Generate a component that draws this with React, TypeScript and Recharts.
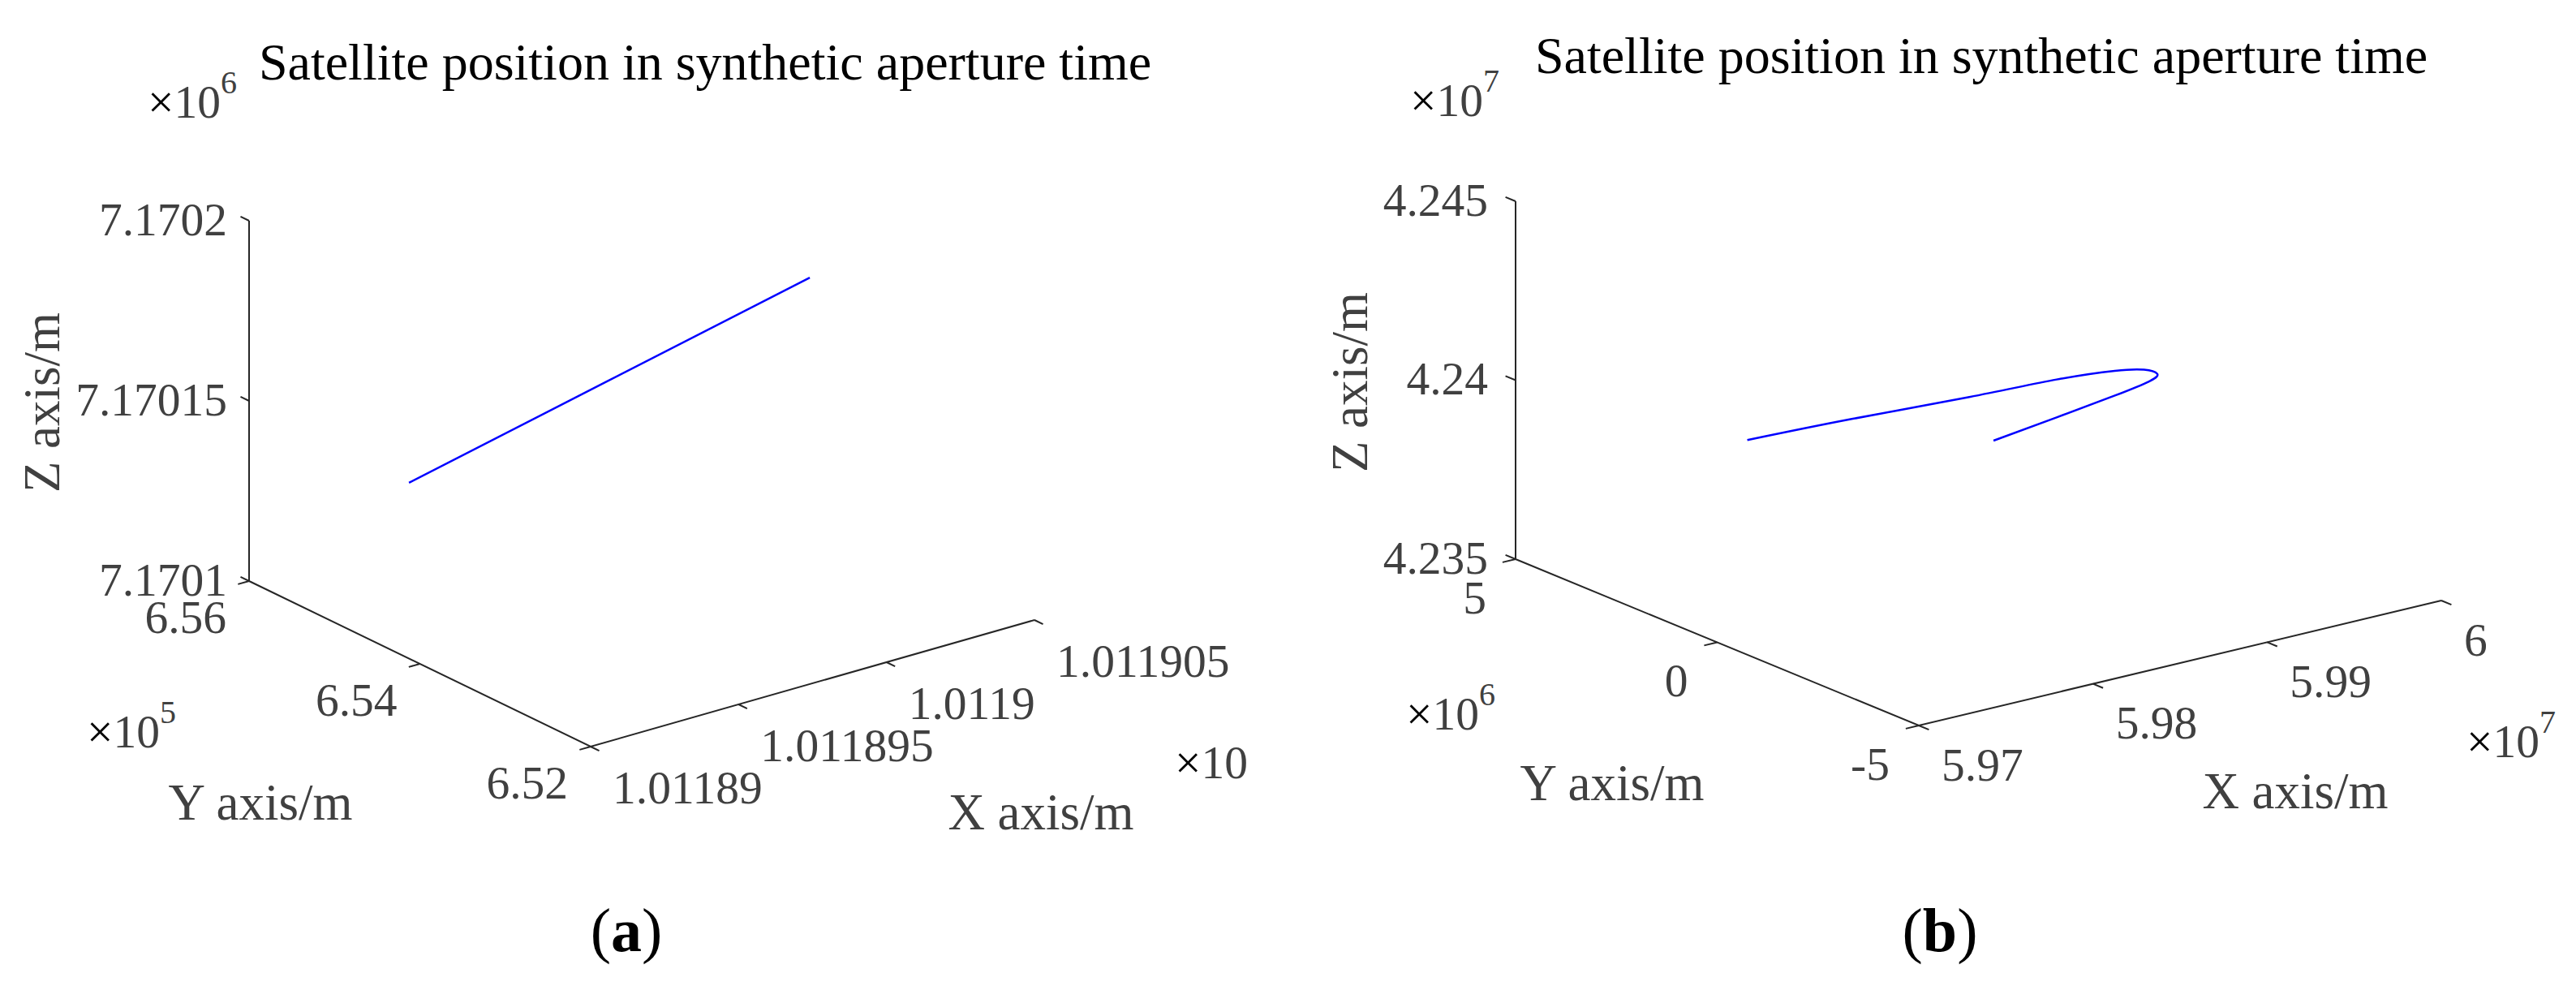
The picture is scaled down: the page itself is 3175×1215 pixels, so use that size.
import React from 'react';
import { ComposedChart, Line, Scatter, XAxis, YAxis } from 'recharts';

// ---- panel (a) data ----
const A_X_LIM = [1011890, 1011905];
const A_Y_LIM = [652000, 656000];
const A_Z_LIM = [7170100, 7170200];
const A_X_TICKS = [1011890, 1011895, 1011900, 1011905];
const A_X_LABELS = ['1.01189', '1.011895', '1.0119', '1.011905'];
const A_Y_TICKS = [652000, 654000, 656000];
const A_Y_LABELS = ['6.52', '6.54', '6.56'];
const A_Z_TICKS = [7170100, 7170150, 7170200];
const A_Z_LABELS = ['7.1701', '7.17015', '7.1702'];
const A_SAT_X = [1011894.25, 1011897.55, 1011900.87];
const A_SAT_Y = [655600, 654400, 653200];
const A_SAT_Z = [7170121.9, 7170156.4, 7170190.9];

// ---- panel (b) data ----
const B_X_LIM = [59700000, 60000000];
const B_Y_LIM = [-5000000, 5000000];
const B_Z_LIM = [42350000, 42450000];
const B_X_TICKS = [59700000, 59800000, 59900000, 60000000];
const B_X_LABELS = ['5.97', '5.98', '5.99', '6'];
const B_Y_TICKS = [-5000000, 0, 5000000];
const B_Y_LABELS = ['-5', '0', '5'];
const B_Z_TICKS = [42350000, 42400000, 42450000];
const B_Z_LABELS = ['4.235', '4.24', '4.245'];
const B_SAT_X = [59809890, 59847300, 59886420, 59913390, 59928300, 59933490, 59929440, 59915970, 59877390, 59820780, 59761410];
const B_SAT_Y = [4000000, 3000000, 1800000, 800000, 0, -500000, -1000000, -1400000, -2200000, -3200000, -4200000];
const B_SAT_Z = [42375120, 42381360, 42388480, 42394880, 42399300, 42401320, 42403000, 42404380, 42408530, 42413650, 42418730];

const H = 1215;
const FONT = '"Liberation Serif", "Times New Roman", serif';
const GRAY = '#404040';
const AXIS = '#262626';

// view of the 3d box in pixels (origin = xmin, ymin, zmin corner)
interface View {
  origin: number[];
  ex: number[];
  ey: number[];
  ez: number[];
  xlim: number[];
  ylim: number[];
  zlim: number[];
}

const project = (vw: View, x: number, y: number, z: number) => {
  const xn = (x - vw.xlim[0]) / (vw.xlim[1] - vw.xlim[0]);
  const yn = (y - vw.ylim[0]) / (vw.ylim[1] - vw.ylim[0]);
  const zn = (z - vw.zlim[0]) / (vw.zlim[1] - vw.zlim[0]);
  return {
    u: vw.origin[0] + xn * vw.ex[0] + yn * vw.ey[0] + zn * vw.ez[0],
    v: vw.origin[1] + xn * vw.ex[1] + yn * vw.ey[1] + zn * vw.ez[1],
  };
};

interface PanelProps {
  left: number;
  width: number;
  view: View;
  xTicks: number[];
  xLabels: string[];
  yTicks: number[];
  yLabels: string[];
  zTicks: number[];
  zLabels: string[];
  satX: number[];
  satY: number[];
  satZ: number[];
  curve: 'linear' | 'natural';
  off: { z: number[]; y: number[]; x: number[] };
  title: { x: number; y: number };
  zLabel: { x: number; y: number };
  yLabel: { x: number; y: number };
  xLabel: { x: number; y: number };
  zExp: { x: number; y: number; p: string };
  yExp: { x: number; y: number; p: string };
  xExp: { x: number; y: number; p: string };
  tag: { x: number; y: number; t: string };
}

const Exp = ({ x, y, p }: { x: number; y: number; p: string }) => (
  <text x={x} y={y} fontFamily={FONT} fontSize={57.5} fill={GRAY}>
    <tspan fill="#000">×</tspan>
    <tspan>10</tspan>
    <tspan dy={-30} fontSize={40}>{p}</tspan>
  </text>
);

const Panel = (pp: PanelProps) => {
  const vw = pp.view;
  const [x0, x1] = vw.xlim;
  const [y0, y1] = vw.ylim;
  const [z0, z1] = vw.zlim;
  const TK = 0.025;

  const box = [
    project(vw, x0, y1, z1),
    project(vw, x0, y1, z0),
    project(vw, x0, y0, z0),
    project(vw, x1, y0, z0),
  ];

  const ticks: { u: number; v: number | null }[] = [];
  const seg = (a: { u: number; v: number }, b: { u: number; v: number }) => {
    ticks.push(a, b, { u: b.u, v: null });
  };
  pp.zTicks.forEach((t) => seg(project(vw, x0, y1, t), project(vw, x0, y1 + TK * (y1 - y0), t)));
  pp.yTicks.forEach((t) => seg(project(vw, x0, t, z0), project(vw, x0 - TK * (x1 - x0), t, z0)));
  pp.xTicks.forEach((t) => seg(project(vw, t, y0, z0), project(vw, t, y0 - TK * (y1 - y0), z0)));

  const zLab = pp.zTicks.map((t, i) => ({ ...project(vw, x0, y1, t), label: pp.zLabels[i] }));
  const yLab = pp.yTicks.map((t, i) => ({ ...project(vw, x0, t, z0), label: pp.yLabels[i] }));
  const xLab = pp.xTicks.map((t, i) => ({ ...project(vw, t, y0, z0), label: pp.xLabels[i] }));

  const sat = pp.satX.map((x, i) => project(vw, x, pp.satY[i], pp.satZ[i]));

  const labelShape = (dx: number, dy: number, anchor: string) => (p: any) => (
    <text
      x={p.cx + dx}
      y={p.cy + dy}
      textAnchor={anchor}
      dominantBaseline="central"
      fontFamily={FONT}
      fontSize={57.5}
      fill={GRAY}
    >
      {p.payload.label}
    </text>
  );

  return (
    <div style={{ position: 'absolute', left: pp.left, top: 0, width: pp.width, height: H, overflow: 'hidden' }}>
      <ComposedChart width={pp.width} height={H} margin={{ top: 0, right: 0, bottom: 0, left: 0 }}>
        <XAxis type="number" dataKey="u" domain={[0, pp.width]} hide allowDataOverflow />
        <YAxis type="number" dataKey="v" domain={[0, H]} reversed hide allowDataOverflow />
        <Line data={box} dataKey="v" stroke={AXIS} strokeWidth={2} dot={false} activeDot={false} isAnimationActive={false} type="linear" />
        <Line data={ticks} dataKey="v" stroke={AXIS} strokeWidth={2} dot={false} activeDot={false} isAnimationActive={false} type="linear" />
        <Line data={sat} dataKey="v" stroke="#0000ff" strokeWidth={2.5} dot={false} activeDot={false} isAnimationActive={false} type={pp.curve} />
        <Scatter data={zLab} dataKey="v" isAnimationActive={false} shape={labelShape(pp.off.z[0], pp.off.z[1], 'end')} />
        <Scatter data={yLab} dataKey="v" isAnimationActive={false} shape={labelShape(pp.off.y[0], pp.off.y[1], 'end')} />
        <Scatter data={xLab} dataKey="v" isAnimationActive={false} shape={labelShape(pp.off.x[0], pp.off.x[1], 'start')} />
        <text x={pp.title.x} y={pp.title.y} textAnchor="middle" fontFamily={FONT} fontSize={64} fill="#000">
          Satellite position in synthetic aperture time
        </text>
        <text
          x={pp.zLabel.x}
          y={pp.zLabel.y}
          textAnchor="middle"
          dominantBaseline="central"
          transform={`rotate(-90, ${pp.zLabel.x}, ${pp.zLabel.y})`}
          fontFamily={FONT}
          fontSize={63}
          fill={GRAY}
        >
          Z axis/m
        </text>
        <text x={pp.yLabel.x} y={pp.yLabel.y} textAnchor="middle" fontFamily={FONT} fontSize={63} fill={GRAY}>
          Y axis/m
        </text>
        <text x={pp.xLabel.x} y={pp.xLabel.y} textAnchor="middle" fontFamily={FONT} fontSize={63} fill={GRAY}>
          X axis/m
        </text>
        <Exp {...pp.zExp} />
        <Exp {...pp.yExp} />
        <Exp {...pp.xExp} />
        <text x={pp.tag.x} y={pp.tag.y} textAnchor="middle" fontFamily={FONT} fontSize={76} fill="#000">
          (<tspan fontWeight="bold">{pp.tag.t}</tspan>)
        </text>
      </ComposedChart>
    </div>
  );
};

const VIEW_A: View = {
  origin: [728, 920],
  ex: [547, -156],
  ey: [-421, -204],
  ez: [0, -444],
  xlim: A_X_LIM,
  ylim: A_Y_LIM,
  zlim: A_Z_LIM,
};

const VIEW_B: View = {
  origin: [785, 894],
  ex: [644, -154],
  ey: [-497, -205],
  ez: [0, -441],
  xlim: B_X_LIM,
  ylim: B_Y_LIM,
  zlim: B_Z_LIM,
};

export default function App() {
  return (
    <div style={{ position: 'absolute', left: 0, top: 0, width: 3175, height: H, background: '#fff', overflow: 'hidden' }}>
      <Panel
        left={0}
        width={1538}
        view={VIEW_A}
        xTicks={A_X_TICKS}
        xLabels={A_X_LABELS}
        yTicks={A_Y_TICKS}
        yLabels={A_Y_LABELS}
        zTicks={A_Z_TICKS}
        zLabels={A_Z_LABELS}
        satX={A_SAT_X}
        satY={A_SAT_Y}
        satZ={A_SAT_Z}
        curve="linear"
        off={{ z: [-27, -2], y: [-28, 44], x: [27, 50] }}
        title={{ x: 869, y: 98 }}
        zLabel={{ x: 52, y: 496 }}
        yLabel={{ x: 321, y: 1010 }}
        xLabel={{ x: 1283, y: 1022 }}
        zExp={{ x: 182, y: 145, p: '6' }}
        yExp={{ x: 107, y: 921, p: '5' }}
        xExp={{ x: 1448, y: 959, p: '6' }}
        tag={{ x: 772, y: 1172, t: 'a' }}
      />
      <Panel
        left={1580}
        width={1595}
        view={VIEW_B}
        xTicks={B_X_TICKS}
        xLabels={B_X_LABELS}
        yTicks={B_Y_TICKS}
        yLabels={B_Y_LABELS}
        zTicks={B_Z_TICKS}
        zLabels={B_Z_LABELS}
        satX={B_SAT_X}
        satY={B_SAT_Y}
        satZ={B_SAT_Z}
        curve="natural"
        off={{ z: [-34, -2], y: [-36, 47], x: [28, 48] }}
        title={{ x: 862, y: 90 }}
        zLabel={{ x: 84, y: 471 }}
        yLabel={{ x: 407, y: 986 }}
        xLabel={{ x: 1249, y: 996 }}
        zExp={{ x: 158, y: 143, p: '7' }}
        yExp={{ x: 153, y: 899, p: '6' }}
        xExp={{ x: 1460, y: 933, p: '7' }}
        tag={{ x: 811, y: 1172, t: 'b' }}
      />
    </div>
  );
}
